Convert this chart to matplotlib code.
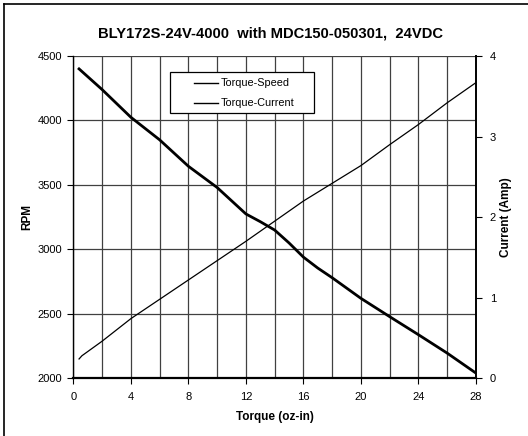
import matplotlib
matplotlib.use("Agg")
import matplotlib.pyplot as plt
from matplotlib.lines import Line2D
from matplotlib.patches import Rectangle

plt.rcParams['font.family'] = ['Liberation Sans', 'DejaVu Sans']

speed_torque = [0.4, 2, 4, 6, 8, 10, 12, 13, 14, 15, 16, 17, 18, 20, 22, 24, 26, 28]
speed_rpm = [4400, 4240, 4025, 3850, 3645, 3480, 3275, 3215, 3150, 3050, 2940, 2855, 2780, 2620, 2478, 2338, 2195, 2040]

current_torque = [0.4, 0.6, 2, 4, 6, 8, 10, 12, 14, 16, 18, 20, 22, 24, 26, 28]
current_amp = [0.24, 0.28, 0.46, 0.74, 0.98, 1.22, 1.46, 1.70, 1.95, 2.20, 2.42, 2.64, 2.90, 3.15, 3.42, 3.67]

title = "BLY172S-24V-4000  with MDC150-050301,  24VDC"
x_ticks = [0, 4, 8, 12, 16, 20, 24, 28]
y_ticks = [2000, 2500, 3000, 3500, 4000, 4500]
y2_ticks = [0, 1, 2, 3, 4]
legend_labels = ['Torque-Speed', 'Torque-Current']

W, H = 528, 436
fig = plt.figure(figsize=(W / 100, H / 100), dpi=100)
ax = fig.add_axes([73.3 / W, 1 - 378.3 / H, (476 - 73.3) / W, (378.3 - 56) / H])

ax.set_xlim(0, 28)
ax.set_ylim(2000, 4500)
ax.set_xticks(x_ticks)
ax.set_xticks(range(0, 29, 2), minor=True)
ax.set_yticks(y_ticks)
ax.grid(True, which='both', axis='x', color='#404040', lw=0.9)
ax.grid(True, which='major', axis='y', color='#404040', lw=0.9)
ax.set_axisbelow(True)
ax.tick_params(axis='x', which='minor', length=0)
ax.tick_params(axis='both', which='major', direction='out', length=4, width=0.8, labelsize=8, pad=4)
ax.tick_params(axis='x', which='major', pad=6)
for s in ['top', 'right']:
    ax.spines[s].set_visible(False)
ax.spines['left'].set_linewidth(1.0)
ax.spines['bottom'].set_linewidth(1.6)

l1, = ax.plot(speed_torque, speed_rpm, color='black', lw=2.0)

ax2 = ax.twinx()
ax2.set_ylim(0, 4)
ax2.set_yticks(y2_ticks)
ax2.tick_params(axis='y', direction='out', length=4, width=0.8, labelsize=8, pad=6)
for s in ['top', 'left', 'bottom']:
    ax2.spines[s].set_visible(False)
ax2.spines['right'].set_linewidth(1.4)
l2, = ax2.plot(current_torque, current_amp, color='black', lw=0.9)

ax.set_xlabel('Torque (oz-in)', fontsize=8.5, fontweight='bold', labelpad=6)
ax.set_ylabel('RPM', fontsize=8.5, fontweight='bold', labelpad=3)
ax2.set_ylabel('Current (Amp)', fontsize=8.5, fontweight='bold', labelpad=3)
fig.text(270 / W, 1 - 33 / H, title, ha='center', va='center', fontsize=10.6, fontweight='bold')

# legend box (drawn in figure pixel-based coords)
def fx(px):
    return px / W

def fy(py):
    return 1 - py / H

box = Rectangle((fx(170), fy(113)), fx(314) - fx(170), fy(72) - fy(113), transform=fig.transFigure,
                facecolor='white', edgecolor='black', lw=0.9, zorder=5)
fig.add_artist(box)
for lab, yy in zip(legend_labels, [83, 103]):
    fig.add_artist(Line2D([fx(194), fx(218)], [fy(yy), fy(yy)], transform=fig.transFigure,
                          color='black', lw=1.0, zorder=6))
    fig.text(fx(221), fy(yy), lab, ha='left', va='center', fontsize=7.8, zorder=6)

# figure border (top and left edges visible)
fig.add_artist(Line2D([4 / W, 1.0], [1 - 4 / H, 1 - 4 / H], transform=fig.transFigure, color='black', lw=1.2))
fig.add_artist(Line2D([4 / W, 4 / W], [1 - 4 / H, 0.0], transform=fig.transFigure, color='black', lw=1.2))

fig.savefig('out.png', dpi=100)
